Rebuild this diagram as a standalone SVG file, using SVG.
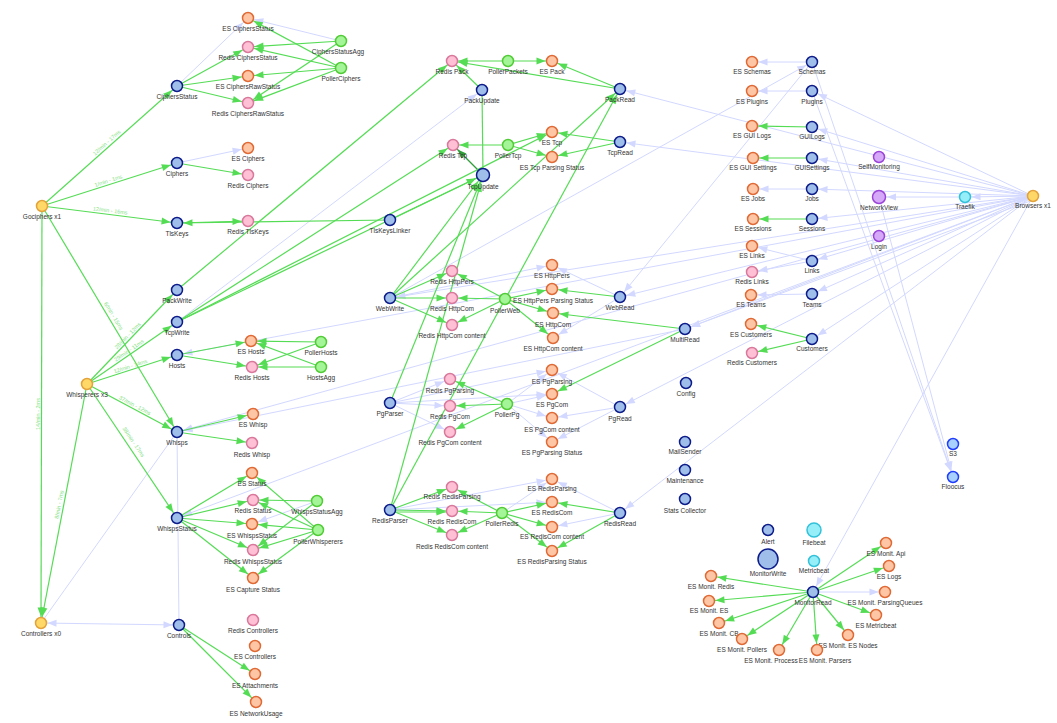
<svg xmlns="http://www.w3.org/2000/svg" width="1057" height="723" viewBox="0 0 1057 723">
<style>
text{font-family:"Liberation Sans",Arial,sans-serif;font-size:6.5px;fill:#333;text-anchor:middle}
.el{font-size:5.5px;fill:#84e284}
circle{stroke-width:1.5}
.svc{fill:#9fbfea;stroke:#0d1c8a}
.es{fill:#ffc6a6;stroke:#e06a35}
.rd{fill:#ffc0d6;stroke:#d9789b}
.pl{fill:#a4f598;stroke:#52cc36}
.hs{fill:#ffd868;stroke:#e3a23a}
.pu{fill:#d6a8f8;stroke:#9a45d8}
.cy{fill:#96eef9;stroke:#33c1da}
.ex{fill:#a9d1ff;stroke:#1f3dff}
line{fill:none}
.g{stroke:#55dc55;stroke-width:1.2;marker-end:url(#ag)}
.g2{stroke:#55dc55;stroke-width:1.2;marker-end:url(#ag2)}
.gd{stroke:#2f9e3a;stroke-width:1.2;marker-end:url(#agd)}
.gn{stroke:#55dc55;stroke-width:1.2}
.b{stroke:#d2d8ff;stroke-width:1;marker-end:url(#ab)}
.b2{stroke:#d2d8ff;stroke-width:1;marker-end:url(#ab2)}
.bn{stroke:#d2d8ff;stroke-width:1}
.bb{stroke:#d2d8ff;stroke-width:1;marker-end:url(#ab);marker-start:url(#ab)}
</style>
<defs>
<marker id="ag" markerUnits="userSpaceOnUse" markerWidth="10" markerHeight="8" refX="15.5" refY="3.5" orient="auto-start-reverse" overflow="visible"><path d="M0,0 L9,3.5 L0,7 z" fill="#55dc55"/></marker>
<marker id="ag2" markerUnits="userSpaceOnUse" markerWidth="10" markerHeight="8" refX="17" refY="3.5" orient="auto-start-reverse" overflow="visible"><path d="M0,0 L9,3.5 L0,7 z" fill="#55dc55"/></marker>
<marker id="agd" markerUnits="userSpaceOnUse" markerWidth="10" markerHeight="8" refX="15.5" refY="3.5" orient="auto-start-reverse" overflow="visible"><path d="M0,0 L9,3.5 L0,7 z" fill="#2f9e3a"/></marker>
<marker id="ab" markerUnits="userSpaceOnUse" markerWidth="10" markerHeight="8" refX="15.5" refY="3.5" orient="auto-start-reverse" overflow="visible"><path d="M0,0 L9,3.5 L0,7 z" fill="#d2d8ff"/></marker>
<marker id="ab2" markerUnits="userSpaceOnUse" markerWidth="10" markerHeight="8" refX="17" refY="3.5" orient="auto-start-reverse" overflow="visible"><path d="M0,0 L9,3.5 L0,7 z" fill="#d2d8ff"/></marker>
</defs>
<rect width="1057" height="723" fill="#fff"/>
<g id="connectors">
<line class="b" x1="177" y1="86" x2="248" y2="18"/>
<line class="b" x1="341" y1="41" x2="248" y2="18"/>
<line class="b" x1="177" y1="163" x2="248" y2="148"/>
<line class="b" x1="177" y1="322" x2="482" y2="90"/>
<line class="b" x1="317" y1="501" x2="252" y2="524"/>
<line class="bn" x1="177" y1="432" x2="179" y2="625"/>
<line class="bn" x1="177" y1="432" x2="41" y2="623"/>
<line class="bb" x1="41" y1="623" x2="179" y2="625"/>
<line class="b" x1="812" y1="62" x2="752" y2="62"/>
<line class="b" x1="812" y1="91" x2="752" y2="91"/>
<line class="b" x1="812" y1="189" x2="753" y2="189"/>
<line class="b" x1="812" y1="261" x2="752" y2="246"/>
<line class="b" x1="812" y1="261" x2="752" y2="272"/>
<line class="b" x1="812" y1="294" x2="751" y2="295"/>
<line class="b" x1="390" y1="298" x2="812" y2="62"/>
<line class="b" x1="812" y1="62" x2="620" y2="297"/>
<line class="b" x1="812" y1="62" x2="953" y2="477"/>
<line class="b" x1="812" y1="91" x2="953" y2="477"/>
<line class="b" x1="879" y1="197" x2="953" y2="477"/>
<line class="b" x1="1033" y1="196" x2="965" y2="197"/>
<line class="b2" x1="965" y1="197" x2="879" y2="197"/>
<line class="b" x1="1033" y1="196" x2="812" y2="91"/>
<line class="b" x1="1033" y1="196" x2="812" y2="127"/>
<line class="b" x1="1033" y1="196" x2="812" y2="158"/>
<line class="b" x1="1033" y1="196" x2="812" y2="189"/>
<line class="b" x1="1033" y1="196" x2="812" y2="219"/>
<line class="b" x1="1033" y1="196" x2="812" y2="261"/>
<line class="b" x1="1033" y1="196" x2="812" y2="294"/>
<line class="b" x1="1033" y1="196" x2="812" y2="339"/>
<line class="b" x1="1033" y1="196" x2="620" y2="89"/>
<line class="b" x1="1033" y1="196" x2="620" y2="142"/>
<line class="b" x1="1033" y1="196" x2="620" y2="297"/>
<line class="b" x1="1033" y1="196" x2="685" y2="329"/>
<line class="b" x1="1033" y1="200" x2="685" y2="329"/>
<line class="b" x1="1033" y1="196" x2="620" y2="407"/>
<line class="b" x1="1033" y1="196" x2="620" y2="513"/>
<line class="b" x1="1033" y1="196" x2="813" y2="592"/>
<line class="b" x1="1033" y1="196" x2="177" y2="355"/>
<line class="b" x1="1033" y1="196" x2="177" y2="432"/>
<line class="b" x1="685" y1="329" x2="177" y2="432"/>
<line class="b" x1="1033" y1="196" x2="177" y2="518"/>
<line class="b" x1="1033" y1="196" x2="390" y2="298"/>
<line class="b" x1="813" y1="592" x2="885" y2="592"/>
<line class="b" x1="390" y1="298" x2="552" y2="265"/>
<line class="b" x1="620" y1="297" x2="552" y2="265"/>
<line class="b" x1="620" y1="297" x2="553" y2="338"/>
<line class="b" x1="390" y1="403" x2="450" y2="379"/>
<line class="b" x1="390" y1="403" x2="450" y2="406"/>
<line class="b" x1="390" y1="403" x2="450" y2="432"/>
<line class="b" x1="390" y1="403" x2="552" y2="370"/>
<line class="b" x1="390" y1="403" x2="552" y2="394"/>
<line class="b" x1="507" y1="404" x2="552" y2="370"/>
<line class="b" x1="507" y1="404" x2="552" y2="394"/>
<line class="b" x1="507" y1="404" x2="552" y2="418"/>
<line class="b" x1="507" y1="404" x2="552" y2="442"/>
<line class="b" x1="620" y1="407" x2="552" y2="370"/>
<line class="b" x1="620" y1="407" x2="552" y2="418"/>
<line class="b" x1="620" y1="407" x2="552" y2="442"/>
<line class="b" x1="390" y1="510" x2="552" y2="479"/>
<line class="b" x1="390" y1="510" x2="552" y2="502"/>
<line class="b" x1="502" y1="513" x2="552" y2="479"/>
<line class="b" x1="620" y1="513" x2="552" y2="479"/>
<line class="b" x1="620" y1="513" x2="552" y2="527"/>
<line class="g" x1="42" y1="206" x2="177" y2="86"/>
<line class="g" x1="42" y1="206" x2="177" y2="163"/>
<line class="g" x1="42" y1="206" x2="177" y2="223"/>
<line class="g" x1="42" y1="206" x2="41" y2="623"/>
<line class="g" x1="42" y1="206" x2="177" y2="432"/>
<line class="g" x1="177" y1="86" x2="248" y2="47"/>
<line class="g" x1="177" y1="86" x2="248" y2="76"/>
<line class="g" x1="177" y1="86" x2="248" y2="103"/>
<line class="g" x1="341" y1="41" x2="248" y2="47"/>
<line class="g" x1="341" y1="41" x2="248" y2="103"/>
<line class="g" x1="341" y1="68" x2="248" y2="18"/>
<line class="g" x1="341" y1="68" x2="248" y2="47"/>
<line class="g" x1="341" y1="68" x2="248" y2="76"/>
<line class="g" x1="341" y1="68" x2="248" y2="103"/>
<line class="g" x1="177" y1="163" x2="248" y2="175"/>
<line class="g" x1="177" y1="223" x2="248" y2="221"/>
<line class="g" x1="390" y1="220" x2="177" y2="223"/>
<line class="g" x1="87" y1="384" x2="177" y2="290"/>
<line class="g" x1="87" y1="384" x2="177" y2="322"/>
<line class="g" x1="87" y1="384" x2="177" y2="355"/>
<line class="g" x1="87" y1="384" x2="177" y2="432"/>
<line class="g" x1="87" y1="384" x2="177" y2="518"/>
<line class="g" x1="87" y1="384" x2="41" y2="623"/>
<line class="g" x1="177" y1="355" x2="251" y2="341"/>
<line class="g" x1="177" y1="355" x2="252" y2="367"/>
<line class="g" x1="321" y1="342" x2="251" y2="341"/>
<line class="g" x1="321" y1="342" x2="252" y2="367"/>
<line class="g" x1="321" y1="367" x2="251" y2="341"/>
<line class="g" x1="321" y1="367" x2="252" y2="367"/>
<line class="g" x1="177" y1="432" x2="253" y2="414"/>
<line class="g" x1="177" y1="432" x2="252" y2="443"/>
<line class="g" x1="177" y1="518" x2="252" y2="473"/>
<line class="g" x1="177" y1="518" x2="253" y2="500"/>
<line class="g" x1="177" y1="518" x2="252" y2="524"/>
<line class="g" x1="177" y1="518" x2="253" y2="550"/>
<line class="g" x1="177" y1="518" x2="253" y2="578"/>
<line class="g" x1="317" y1="501" x2="253" y2="500"/>
<line class="g" x1="317" y1="501" x2="253" y2="550"/>
<line class="g" x1="318" y1="530" x2="252" y2="473"/>
<line class="g" x1="318" y1="530" x2="253" y2="500"/>
<line class="g" x1="318" y1="530" x2="252" y2="524"/>
<line class="g" x1="318" y1="530" x2="253" y2="550"/>
<line class="g" x1="318" y1="530" x2="253" y2="578"/>
<line class="g" x1="179" y1="625" x2="255" y2="674"/>
<line class="g" x1="179" y1="625" x2="256" y2="702"/>
<line class="g" x1="177" y1="290" x2="452" y2="61"/>
<line class="g" x1="508" y1="61" x2="452" y2="61"/>
<line class="g" x1="508" y1="61" x2="552" y2="61"/>
<line class="g" x1="482" y1="90" x2="452" y2="61"/>
<line class="g" x1="620" y1="89" x2="552" y2="61"/>
<line class="g" x1="620" y1="89" x2="452" y2="61"/>
<line class="gn" x1="482" y1="90" x2="483" y2="175"/>
<line class="gd" x1="483" y1="175" x2="453" y2="145"/>
<line class="g" x1="508" y1="145" x2="453" y2="145"/>
<line class="g" x1="508" y1="145" x2="552" y2="132"/>
<line class="g" x1="508" y1="145" x2="552" y2="157"/>
<line class="g" x1="620" y1="142" x2="552" y2="132"/>
<line class="g" x1="620" y1="142" x2="552" y2="157"/>
<line class="g" x1="177" y1="322" x2="453" y2="145"/>
<line class="g" x1="177" y1="322" x2="552" y2="132"/>
<line class="g2" x1="177" y1="322" x2="483" y2="175"/>
<line class="g2" x1="390" y1="220" x2="483" y2="175"/>
<line class="g2" x1="390" y1="298" x2="483" y2="175"/>
<line class="g2" x1="390" y1="403" x2="483" y2="175"/>
<line class="g2" x1="390" y1="510" x2="483" y2="175"/>
<line class="g" x1="390" y1="298" x2="620" y2="89"/>
<line class="g" x1="390" y1="510" x2="620" y2="89"/>
<line class="g" x1="390" y1="298" x2="452" y2="271"/>
<line class="g" x1="390" y1="298" x2="452" y2="298"/>
<line class="g" x1="390" y1="298" x2="452" y2="325"/>
<line class="g" x1="505" y1="299" x2="452" y2="271"/>
<line class="g" x1="505" y1="299" x2="452" y2="298"/>
<line class="g" x1="505" y1="299" x2="452" y2="325"/>
<line class="g" x1="505" y1="299" x2="552" y2="289"/>
<line class="g" x1="505" y1="299" x2="553" y2="313"/>
<line class="g" x1="505" y1="299" x2="553" y2="338"/>
<line class="g" x1="620" y1="297" x2="552" y2="289"/>
<line class="g" x1="685" y1="329" x2="553" y2="313"/>
<line class="g" x1="685" y1="329" x2="552" y2="394"/>
<line class="g" x1="507" y1="404" x2="450" y2="379"/>
<line class="g" x1="507" y1="404" x2="450" y2="406"/>
<line class="g" x1="507" y1="404" x2="450" y2="432"/>
<line class="g" x1="390" y1="510" x2="452" y2="487"/>
<line class="g" x1="390" y1="510" x2="452" y2="511"/>
<line class="g" x1="390" y1="512" x2="452" y2="512"/>
<line class="g" x1="390" y1="510" x2="452" y2="535"/>
<line class="g" x1="502" y1="513" x2="452" y2="487"/>
<line class="g" x1="502" y1="513" x2="452" y2="511"/>
<line class="g" x1="502" y1="513" x2="452" y2="535"/>
<line class="g" x1="502" y1="513" x2="552" y2="502"/>
<line class="g" x1="502" y1="513" x2="552" y2="527"/>
<line class="g" x1="502" y1="513" x2="552" y2="551"/>
<line class="g" x1="620" y1="513" x2="552" y2="502"/>
<line class="g" x1="620" y1="513" x2="552" y2="551"/>
<line class="g" x1="812" y1="127" x2="752" y2="126"/>
<line class="g" x1="812" y1="158" x2="753" y2="158"/>
<line class="g" x1="812" y1="219" x2="753" y2="219"/>
<line class="g" x1="812" y1="339" x2="751" y2="324"/>
<line class="g" x1="812" y1="339" x2="752" y2="353"/>
<line class="g" x1="813" y1="592" x2="886" y2="543"/>
<line class="g" x1="813" y1="592" x2="889" y2="566"/>
<line class="g" x1="813" y1="592" x2="876" y2="615"/>
<line class="g" x1="813" y1="592" x2="848" y2="635"/>
<line class="g" x1="813" y1="592" x2="817" y2="650"/>
<line class="g" x1="813" y1="592" x2="779" y2="650"/>
<line class="g" x1="813" y1="592" x2="742" y2="639"/>
<line class="g" x1="813" y1="592" x2="719" y2="623"/>
<line class="g" x1="813" y1="592" x2="709" y2="601"/>
<line class="g" x1="813" y1="592" x2="711" y2="576"/>
<text class="el" transform="translate(108,144) rotate(-41.9)">12/min - 17ms</text>
<text class="el" transform="translate(109,182.5) rotate(-18)">1/min - 1ms</text>
<text class="el" transform="translate(110,212.5) rotate(6.8)">12/min - 16ms</text>
<text class="el" transform="translate(39.5,414) rotate(-90)">14/min - 2ms</text>
<text class="el" transform="translate(112,317) rotate(59)">6/min - 15ms</text>
<text class="el" transform="translate(129,337) rotate(-46)">28/min - 12ms</text>
<text class="el" transform="translate(130,352) rotate(-34.6)">29/min - 11ms</text>
<text class="el" transform="translate(131,368) rotate(-17.9)">12/min - 14ms</text>
<text class="el" transform="translate(134,407) rotate(28)">37/min - 12ms</text>
<text class="el" transform="translate(132,443) rotate(56)">38/min - 17ms</text>
<text class="el" transform="translate(61,505) rotate(-79.1)">8/min - 7ms</text>
</g>
<g id="n-gociphers"><circle class="hs" cx="42" cy="206" r="5.5"/><text x="42" y="219">Gociphers x1</text></g>
<g id="n-ciphersstatus"><circle class="svc" cx="177" cy="86" r="5.5"/><text x="177" y="99">CiphersStatus</text></g>
<g id="n-ciphers"><circle class="svc" cx="177" cy="163" r="5.5"/><text x="177" y="176">Ciphers</text></g>
<g id="n-tlskeys"><circle class="svc" cx="177" cy="223" r="5.5"/><text x="177" y="236">TlsKeys</text></g>
<g id="n-es-ciphersstatus"><circle class="es" cx="248" cy="18" r="5.5"/><text x="248" y="31">ES CiphersStatus</text></g>
<g id="n-redis-ciphersstatus"><circle class="rd" cx="248" cy="47" r="5.5"/><text x="248" y="60">Redis CiphersStatus</text></g>
<g id="n-es-ciphersrawstatus"><circle class="es" cx="248" cy="76" r="5.5"/><text x="248" y="89">ES CiphersRawStatus</text></g>
<g id="n-redis-ciphersrawstatus"><circle class="rd" cx="248" cy="103" r="5.5"/><text x="248" y="116">Redis CiphersRawStatus</text></g>
<g id="n-ciphersstatusagg"><circle class="pl" cx="341" cy="41" r="5.5"/><text x="338" y="54">CiphersStatusAgg</text></g>
<g id="n-pollerciphers"><circle class="pl" cx="341" cy="68" r="5.5"/><text x="341" y="81">PollerCiphers</text></g>
<g id="n-es-ciphers"><circle class="es" cx="248" cy="148" r="5.5"/><text x="248" y="161">ES Ciphers</text></g>
<g id="n-redis-ciphers"><circle class="rd" cx="248" cy="175" r="5.5"/><text x="248" y="188">Redis Ciphers</text></g>
<g id="n-redis-tlskeys"><circle class="rd" cx="248" cy="221" r="5.5"/><text x="248" y="234">Redis TlsKeys</text></g>
<g id="n-tlskeyslinker"><circle class="svc" cx="390" cy="220" r="5.5"/><text x="390" y="233">TlsKeysLinker</text></g>
<g id="n-packwrite"><circle class="svc" cx="177" cy="290" r="5.5"/><text x="177" y="303">PackWrite</text></g>
<g id="n-tcpwrite"><circle class="svc" cx="177" cy="322" r="5.5"/><text x="177" y="335">TcpWrite</text></g>
<g id="n-hosts"><circle class="svc" cx="177" cy="355" r="5.5"/><text x="177" y="368">Hosts</text></g>
<g id="n-whisperers"><circle class="hs" cx="87" cy="384" r="5.5"/><text x="87" y="397">Whisperers x3</text></g>
<g id="n-es-hosts"><circle class="es" cx="251" cy="341" r="5.5"/><text x="251" y="354">ES Hosts</text></g>
<g id="n-redis-hosts"><circle class="rd" cx="252" cy="367" r="5.5"/><text x="252" y="380">Redis Hosts</text></g>
<g id="n-pollerhosts"><circle class="pl" cx="321" cy="342" r="5.5"/><text x="321" y="355">PollerHosts</text></g>
<g id="n-hostsagg"><circle class="pl" cx="321" cy="367" r="5.5"/><text x="321" y="380">HostsAgg</text></g>
<g id="n-whisps"><circle class="svc" cx="177" cy="432" r="5.5"/><text x="177" y="445">Whisps</text></g>
<g id="n-es-whisp"><circle class="es" cx="253" cy="414" r="5.5"/><text x="253" y="427">ES Whisp</text></g>
<g id="n-redis-whisp"><circle class="rd" cx="252" cy="443" r="5.5"/><text x="252" y="457">Redis Whisp</text></g>
<g id="n-es-status"><circle class="es" cx="252" cy="473" r="5.5"/><text x="252" y="486">ES Status</text></g>
<g id="n-redis-status"><circle class="rd" cx="253" cy="500" r="5.5"/><text x="253" y="513">Redis Status</text></g>
<g id="n-whispsstatusagg"><circle class="pl" cx="317" cy="501" r="5.5"/><text x="317" y="514">WhispsStatusAgg</text></g>
<g id="n-whispsstatus"><circle class="svc" cx="177" cy="518" r="5.5"/><text x="177" y="531">WhispsStatus</text></g>
<g id="n-es-whispsstatus"><circle class="es" cx="252" cy="524" r="5.5"/><text x="252" y="538">ES WhispsStatus</text></g>
<g id="n-pollerwhisperers"><circle class="pl" cx="318" cy="530" r="5.5"/><text x="318" y="544">PollerWhisperers</text></g>
<g id="n-redis-whispsstatus"><circle class="rd" cx="253" cy="550" r="5.5"/><text x="253" y="564">Redis WhispsStatus</text></g>
<g id="n-es-capturestatus"><circle class="es" cx="253" cy="578" r="5.5"/><text x="253" y="592">ES Capture Status</text></g>
<g id="n-controllers"><circle class="hs" cx="41" cy="623" r="5.5"/><text x="41" y="636">Controllers x0</text></g>
<g id="n-controls"><circle class="svc" cx="179" cy="625" r="5.5"/><text x="179" y="638">Controls</text></g>
<g id="n-redis-controllers"><circle class="rd" cx="253" cy="620" r="5.5"/><text x="253" y="633">Redis Controllers</text></g>
<g id="n-es-controllers"><circle class="es" cx="255" cy="646" r="5.5"/><text x="255" y="659">ES Controllers</text></g>
<g id="n-es-attachments"><circle class="es" cx="255" cy="674" r="5.5"/><text x="255" y="688">ES Attachments</text></g>
<g id="n-es-networkusage"><circle class="es" cx="256" cy="702" r="5.5"/><text x="256" y="716">ES NetworkUsage</text></g>
<g id="n-redis-pack"><circle class="rd" cx="452" cy="61" r="5.5"/><text x="452" y="74">Redis Pack</text></g>
<g id="n-pollerpackets"><circle class="pl" cx="508" cy="61" r="5.5"/><text x="508" y="74">PollerPackets</text></g>
<g id="n-es-pack"><circle class="es" cx="552" cy="61" r="5.5"/><text x="552" y="74">ES Pack</text></g>
<g id="n-packupdate"><circle class="svc" cx="482" cy="90" r="5.5"/><text x="482" y="103">PackUpdate</text></g>
<g id="n-packread"><circle class="svc" cx="620" cy="89" r="5.5"/><text x="620" y="102">PackRead</text></g>
<g id="n-es-tcp"><circle class="es" cx="552" cy="132" r="5.5"/><text x="552" y="145">ES Tcp</text></g>
<g id="n-redis-tcp"><circle class="rd" cx="453" cy="145" r="5.5"/><text x="453" y="158">Redis Tcp</text></g>
<g id="n-pollertcp"><circle class="pl" cx="508" cy="145" r="5.5"/><text x="508" y="158">PollerTcp</text></g>
<g id="n-tcpread"><circle class="svc" cx="620" cy="142" r="5.5"/><text x="620" y="155">TcpRead</text></g>
<g id="n-es-tcpparsingstatus"><circle class="es" cx="552" cy="157" r="5.5"/><text x="552" y="170">ES Tcp Parsing Status</text></g>
<g id="n-tcpupdate"><circle class="svc" cx="483" cy="175" r="6.5"/><text x="483" y="189">TcpUpdate</text></g>
<g id="n-webwrite"><circle class="svc" cx="390" cy="298" r="5.5"/><text x="390" y="311">WebWrite</text></g>
<g id="n-redis-httppers"><circle class="rd" cx="452" cy="271" r="5.5"/><text x="452" y="284">Redis HttpPers</text></g>
<g id="n-redis-httpcom"><circle class="rd" cx="452" cy="298" r="5.5"/><text x="452" y="311">Redis HttpCom</text></g>
<g id="n-redis-httpcomcontent"><circle class="rd" cx="452" cy="325" r="5.5"/><text x="452" y="338">Redis HttpCom content</text></g>
<g id="n-pollerweb"><circle class="pl" cx="505" cy="299" r="5.5"/><text x="505" y="313">PollerWeb</text></g>
<g id="n-es-httppers"><circle class="es" cx="552" cy="265" r="5.5"/><text x="552" y="278">ES HttpPers</text></g>
<g id="n-es-httpparsing"><circle class="es" cx="552" cy="289" r="5.5"/><text x="553" y="303">ES HttpPers Parsing Status</text></g>
<g id="n-es-httpcom"><circle class="es" cx="553" cy="313" r="5.5"/><text x="553" y="327">ES HttpCom</text></g>
<g id="n-es-httpcomcontent"><circle class="es" cx="553" cy="338" r="5.5"/><text x="553" y="351">ES HttpCom content</text></g>
<g id="n-webread"><circle class="svc" cx="620" cy="297" r="5.5"/><text x="620" y="310">WebRead</text></g>
<g id="n-multiread"><circle class="svc" cx="685" cy="329" r="5.5"/><text x="685" y="342">MultiRead</text></g>
<g id="n-redis-pgparsing"><circle class="rd" cx="450" cy="379" r="5.5"/><text x="450" y="393">Redis PgParsing</text></g>
<g id="n-es-pgparsing"><circle class="es" cx="552" cy="370" r="5.5"/><text x="552" y="384">ES PgParsing</text></g>
<g id="n-es-pgcom"><circle class="es" cx="552" cy="394" r="5.5"/><text x="552" y="407">ES PgCom</text></g>
<g id="n-pgparser"><circle class="svc" cx="390" cy="403" r="5.5"/><text x="390" y="416">PgParser</text></g>
<g id="n-redis-pgcom"><circle class="rd" cx="450" cy="406" r="5.5"/><text x="450" y="419">Redis PgCom</text></g>
<g id="n-pollerpg"><circle class="pl" cx="507" cy="404" r="5.5"/><text x="507" y="417">PollerPg</text></g>
<g id="n-pgread"><circle class="svc" cx="620" cy="407" r="5.5"/><text x="620" y="421">PgRead</text></g>
<g id="n-config"><circle class="svc" cx="686" cy="383" r="5.5"/><text x="686" y="396">Config</text></g>
<g id="n-es-pgcomcontent"><circle class="es" cx="552" cy="418" r="5.5"/><text x="552" y="432">ES PgCom content</text></g>
<g id="n-redis-pgcomcontent"><circle class="rd" cx="450" cy="432" r="5.5"/><text x="450" y="445">Redis PgCom content</text></g>
<g id="n-es-pgparsingstatus"><circle class="es" cx="552" cy="442" r="5.5"/><text x="552" y="455">ES PgParsing Status</text></g>
<g id="n-mailsender"><circle class="svc" cx="685" cy="442" r="5.5"/><text x="685" y="454">MailSender</text></g>
<g id="n-maintenance"><circle class="svc" cx="685" cy="470" r="5.5"/><text x="685" y="483">Maintenance</text></g>
<g id="n-es-redisparsing"><circle class="es" cx="552" cy="479" r="5.5"/><text x="552" y="491">ES RedisParsing</text></g>
<g id="n-redis-redisparsing"><circle class="rd" cx="452" cy="487" r="5.5"/><text x="452" y="499">Redis RedisParsing</text></g>
<g id="n-statscollector"><circle class="svc" cx="685" cy="499" r="5.5"/><text x="685" y="513">Stats Collector</text></g>
<g id="n-es-rediscom"><circle class="es" cx="552" cy="502" r="5.5"/><text x="552" y="515">ES RedisCom</text></g>
<g id="n-redisparser"><circle class="svc" cx="390" cy="510" r="5.5"/><text x="390" y="523">RedisParser</text></g>
<g id="n-redis-rediscom"><circle class="rd" cx="452" cy="511" r="5.5"/><text x="452" y="524">Redis RedisCom</text></g>
<g id="n-pollerredis"><circle class="pl" cx="502" cy="513" r="5.5"/><text x="502" y="526">PollerRedis</text></g>
<g id="n-redisread"><circle class="svc" cx="620" cy="513" r="5.5"/><text x="620" y="526">RedisRead</text></g>
<g id="n-es-rediscomcontent"><circle class="es" cx="552" cy="527" r="5.5"/><text x="552" y="539">ES RedisCom content</text></g>
<g id="n-redis-rediscomcontent"><circle class="rd" cx="452" cy="535" r="5.5"/><text x="452" y="549">Redis RedisCom content</text></g>
<g id="n-es-redisparsingstatus"><circle class="es" cx="552" cy="551" r="5.5"/><text x="552" y="564">ES RedisParsing Status</text></g>
<g id="n-es-schemas"><circle class="es" cx="752" cy="62" r="5.5"/><text x="752" y="74">ES Schemas</text></g>
<g id="n-schemas"><circle class="svc" cx="812" cy="62" r="5.5"/><text x="812" y="74">Schemas</text></g>
<g id="n-es-plugins"><circle class="es" cx="752" cy="91" r="5.5"/><text x="752" y="104">ES Plugins</text></g>
<g id="n-plugins"><circle class="svc" cx="812" cy="91" r="5.5"/><text x="812" y="104">Plugins</text></g>
<g id="n-es-guilogs"><circle class="es" cx="752" cy="126" r="5.5"/><text x="752" y="138">ES GUI Logs</text></g>
<g id="n-guilogs"><circle class="svc" cx="812" cy="127" r="5.5"/><text x="812" y="139">GUILogs</text></g>
<g id="n-es-guisettings"><circle class="es" cx="753" cy="158" r="5.5"/><text x="753" y="170">ES GUI Settings</text></g>
<g id="n-guisettings"><circle class="svc" cx="812" cy="158" r="5.5"/><text x="812" y="170">GUISettings</text></g>
<g id="n-selfmonitoring"><circle class="pu" cx="879" cy="157" r="5.5"/><text x="879" y="169">SelfMonitoring</text></g>
<g id="n-es-jobs"><circle class="es" cx="753" cy="189" r="5.5"/><text x="753" y="201">ES Jobs</text></g>
<g id="n-jobs"><circle class="svc" cx="812" cy="189" r="5.5"/><text x="812" y="201">Jobs</text></g>
<g id="n-networkview"><circle class="pu" cx="879" cy="197" r="6.5"/><text x="879" y="210">NetworkView</text></g>
<g id="n-traefik"><circle class="cy" cx="965" cy="197" r="5.5"/><text x="965" y="209">Traefik</text></g>
<g id="n-browsers"><circle class="hs" cx="1033" cy="196" r="5.5"/><text x="1033" y="208">Browsers x1</text></g>
<g id="n-es-sessions"><circle class="es" cx="753" cy="219" r="5.5"/><text x="753" y="231">ES Sessions</text></g>
<g id="n-sessions"><circle class="svc" cx="812" cy="219" r="5.5"/><text x="812" y="231">Sessions</text></g>
<g id="n-login"><circle class="pu" cx="879" cy="236" r="5.5"/><text x="879" y="249">Login</text></g>
<g id="n-es-links"><circle class="es" cx="752" cy="246" r="5.5"/><text x="752" y="258">ES Links</text></g>
<g id="n-links"><circle class="svc" cx="812" cy="261" r="5.5"/><text x="812" y="273">Links</text></g>
<g id="n-redis-links"><circle class="rd" cx="752" cy="272" r="5.5"/><text x="752" y="284">Redis Links</text></g>
<g id="n-es-teams"><circle class="es" cx="751" cy="295" r="5.5"/><text x="751" y="307">ES Teams</text></g>
<g id="n-teams"><circle class="svc" cx="812" cy="294" r="5.5"/><text x="812" y="307">Teams</text></g>
<g id="n-es-customers"><circle class="es" cx="751" cy="324" r="5.5"/><text x="751" y="337">ES Customers</text></g>
<g id="n-customers"><circle class="svc" cx="812" cy="339" r="5.5"/><text x="812" y="351">Customers</text></g>
<g id="n-redis-customers"><circle class="rd" cx="752" cy="353" r="5.5"/><text x="752" y="365">Redis Customers</text></g>
<g id="n-s3"><circle class="ex" cx="953" cy="444" r="5.5"/><text x="953" y="456">S3</text></g>
<g id="n-floocus"><circle class="ex" cx="953" cy="477" r="5.5"/><text x="953" y="489">Floocus</text></g>
<g id="n-alert"><circle class="svc" cx="768" cy="530" r="5.5"/><text x="768" y="544">Alert</text></g>
<g id="n-filebeat"><circle class="cy" cx="814" cy="530" r="7"/><text x="814" y="545">Filebeat</text></g>
<g id="n-monitorwrite"><circle class="svc" cx="768" cy="559" r="10"/><text x="768" y="576">MonitorWrite</text></g>
<g id="n-metricbeat"><circle class="cy" cx="814" cy="561" r="5.5"/><text x="814" y="573">Metricbeat</text></g>
<g id="n-monitorread"><circle class="svc" cx="813" cy="592" r="5.5"/><text x="813" y="605">MonitorRead</text></g>
<g id="n-es-monit-api"><circle class="es" cx="886" cy="543" r="5.5"/><text x="886" y="556">ES Monit. Api</text></g>
<g id="n-es-logs"><circle class="es" cx="889" cy="566" r="5.5"/><text x="889" y="579">ES Logs</text></g>
<g id="n-es-monit-redis"><circle class="es" cx="711" cy="576" r="5.5"/><text x="711" y="589">ES Monit. Redis</text></g>
<g id="n-es-monit-parsingqueues"><circle class="es" cx="885" cy="592" r="5.5"/><text x="885" y="605">ES Monit. ParsingQueues</text></g>
<g id="n-es-monit-es"><circle class="es" cx="709" cy="601" r="5.5"/><text x="709" y="613">ES Monit. ES</text></g>
<g id="n-es-metricbeat"><circle class="es" cx="876" cy="615" r="5.5"/><text x="876" y="628">ES Metricbeat</text></g>
<g id="n-es-monit-cb"><circle class="es" cx="719" cy="623" r="5.5"/><text x="719" y="636">ES Monit. CB</text></g>
<g id="n-es-monit-esnodes"><circle class="es" cx="848" cy="635" r="5.5"/><text x="848" y="648">ES Monit. ES Nodes</text></g>
<g id="n-es-monit-pollers"><circle class="es" cx="742" cy="639" r="5.5"/><text x="742" y="652">ES Monit. Pollers</text></g>
<g id="n-es-monit-process"><circle class="es" cx="779" cy="650" r="5.5"/><text x="771" y="663">ES Monit. Process</text></g>
<g id="n-es-monit-parsers"><circle class="es" cx="817" cy="650" r="5.5"/><text x="825" y="663">ES Monit. Parsers</text></g>
</svg>
